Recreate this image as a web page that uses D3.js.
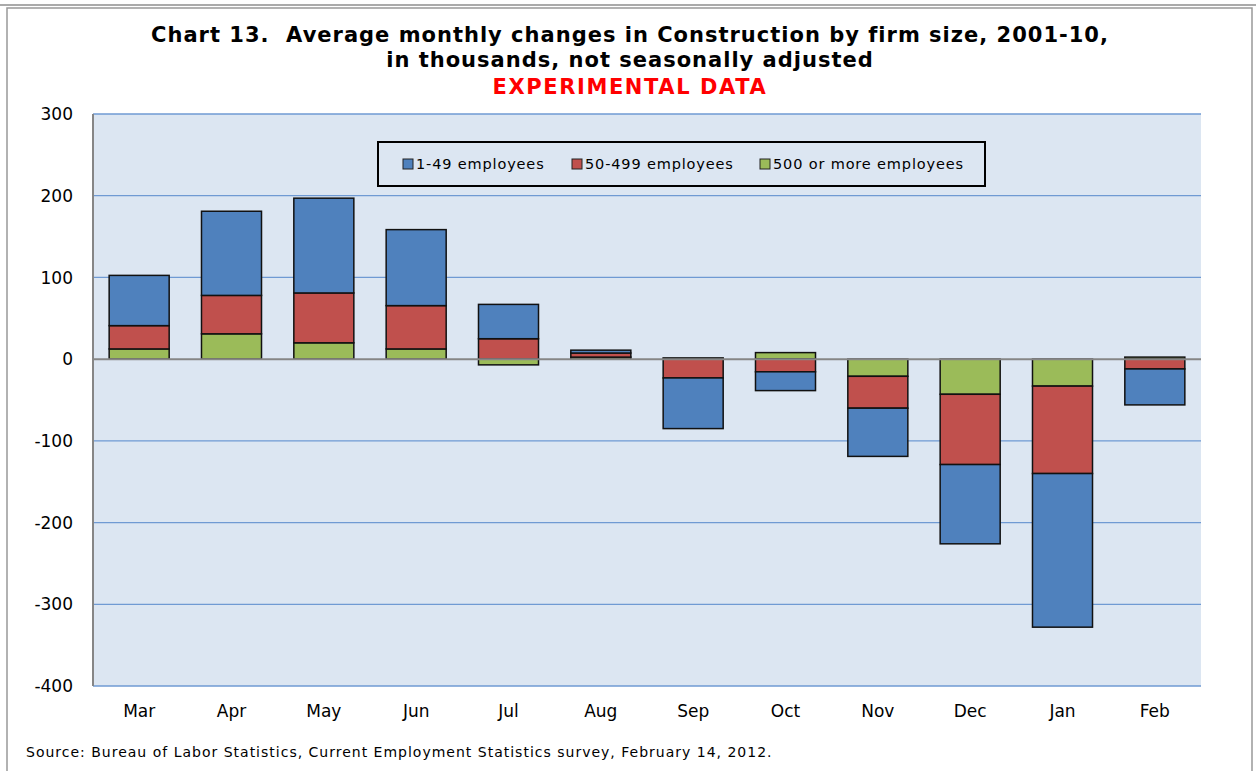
<!DOCTYPE html>
<html>
<head>
<meta charset="utf-8">
<script src="https://cdn.jsdelivr.net/npm/d3@7"></script>
<style>
  body { margin: 0; background: #fff; }
  svg text { font-family: "DejaVu Sans", Verdana, sans-serif; white-space: pre; }
</style>
</head>
<body>
<svg width="1256" height="771"></svg>
<script>
// months, Mar 2001-10 average through Feb
const months = ['Mar', 'Apr', 'May', 'Jun', 'Jul', 'Aug', 'Sep', 'Oct', 'Nov', 'Dec', 'Jan', 'Feb'];
const small = [61.5, 103, 116, 93, 42, 3.5, -62, -23, -59, -97, -188, -44];
const medium = [28.5, 47, 61, 53, 25, 5, -23, -15.5, -39, -86, -107, -12];
const large = [12.5, 31, 20, 12.5, -7, 2.5, 1.5, 8, -21, -43, -33, 2.5];
const seriesNames = ['1-49 employees', '50-499 employees', '500 or more employees'];
const seriesColors = ['#4f81bd', '#c0504d', '#9bbb59'];
const yTicks = [300, 200, 100, 0, -100, -200, -300, -400];

const svg = d3.select('svg');

// outer frame
svg.append('line').attr('x1', 0).attr('x2', 1256).attr('y1', 5).attr('y2', 5)
  .attr('stroke', '#aaa').attr('stroke-width', 2);
svg.append('rect').attr('x', 7).attr('y', 8).attr('width', 1245).attr('height', 780)
  .attr('fill', 'none').attr('stroke', '#999').attr('stroke-width', 1.5);

const margin = {left: 93, right: 1201, top: 114, bottom: 686};

const x = d3.scaleBand().domain(months).range([margin.left, margin.right]).paddingInner(0.35).paddingOuter(0.175);
const y = d3.scaleLinear().domain([-400, 300]).range([margin.bottom, margin.top]);

svg.append('rect')
  .attr('x', margin.left).attr('y', margin.top)
  .attr('width', margin.right - margin.left).attr('height', margin.bottom - margin.top)
  .attr('fill', '#dce6f2');

// gridlines
svg.append('g').selectAll('line').data(yTicks.filter(d => d !== 0))
  .join('line')
  .attr('x1', margin.left).attr('x2', margin.right)
  .attr('y1', d => y(d)).attr('y2', d => y(d))
  .attr('stroke', '#6f9ad3').attr('stroke-width', 1.3);

// y labels
svg.append('g').selectAll('text').data(yTicks)
  .join('text')
  .attr('x', 73).attr('y', d => y(d))
  .attr('dy', '0.36em')
  .attr('text-anchor', 'end')
  .attr('font-size', 17)
  .text(d => d);

// stacked bars
const table = months.map((m, i) => ({month: m, large: large[i], medium: medium[i], small: small[i]}));
const keys = ['large', 'medium', 'small'];
const colorOf = {large: seriesColors[2], medium: seriesColors[1], small: seriesColors[0]};
const stacked = d3.stack().keys(keys).offset(d3.stackOffsetDiverging)(table);

svg.append('g').selectAll('g').data(stacked)
  .join('g')
  .attr('fill', d => colorOf[d.key])
  .selectAll('rect').data(d => d)
  .join('rect')
  .attr('x', d => x(d.data.month))
  .attr('width', x.bandwidth())
  .attr('y', d => y(Math.max(d[0], d[1])))
  .attr('height', d => Math.abs(y(d[0]) - y(d[1])))
  .attr('stroke', '#111')
  .attr('stroke-width', 1.5);

// axes lines
svg.append('line')
  .attr('x1', margin.left).attr('x2', margin.right)
  .attr('y1', y(0)).attr('y2', y(0))
  .attr('stroke', '#868686').attr('stroke-width', 2);
svg.append('line')
  .attr('x1', margin.left).attr('x2', margin.left)
  .attr('y1', margin.top).attr('y2', margin.bottom)
  .attr('stroke', '#868686').attr('stroke-width', 2);

// x labels
svg.append('g').selectAll('text').data(months)
  .join('text')
  .attr('x', d => x(d) + x.bandwidth() / 2)
  .attr('y', 717)
  .attr('text-anchor', 'middle')
  .attr('font-size', 17)
  .text(d => d);

// title
const title = svg.append('g').attr('font-weight', 'bold').attr('text-anchor', 'middle')
  .attr('font-size', 21).attr('letter-spacing', 1);
title.append('text').attr('x', 630).attr('y', 42)
  .text('Chart 13.  Average monthly changes in Construction by firm size, 2001-10,');
title.append('text').attr('x', 630).attr('y', 67)
  .text('in thousands, not seasonally adjusted');
title.append('text').attr('x', 630).attr('y', 94)
  .attr('fill', '#ff0000').attr('letter-spacing', 1.6)
  .text('EXPERIMENTAL DATA');

// legend
const legend = svg.append('g');
legend.append('rect')
  .attr('x', 378).attr('y', 142).attr('width', 607).attr('height', 44)
  .attr('fill', '#dce6f2').attr('stroke', '#000').attr('stroke-width', 2);
const legendX = [403, 572, 760];
seriesNames.forEach((name, i) => {
  legend.append('rect')
    .attr('x', legendX[i]).attr('y', 159).attr('width', 10).attr('height', 10)
    .attr('fill', seriesColors[i]).attr('stroke', '#222').attr('stroke-width', 1);
  legend.append('text')
    .attr('x', legendX[i] + 13).attr('y', 164)
    .attr('dy', '0.35em')
    .attr('font-size', 14.5)
    .attr('letter-spacing', 0.85)
    .text(name);
});

// source
svg.append('text')
  .attr('x', 26).attr('y', 757)
  .attr('font-size', 14)
  .attr('letter-spacing', 1)
  .text('Source: Bureau of Labor Statistics, Current Employment Statistics survey, February 14, 2012.');
</script>
</body>
</html>
